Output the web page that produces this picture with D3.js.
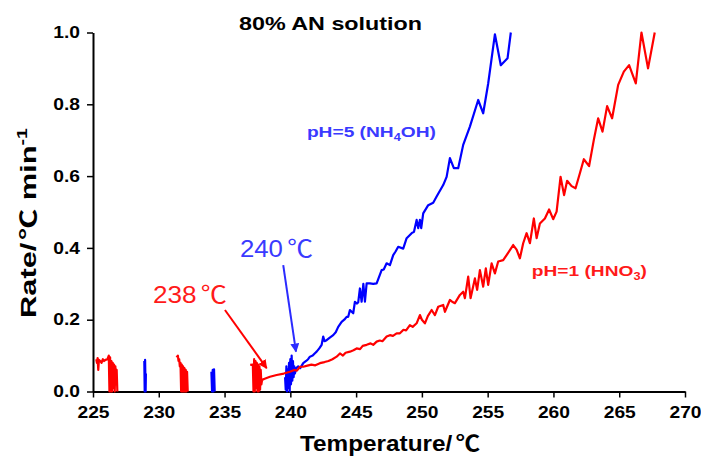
<!DOCTYPE html>
<html>
<head>
<meta charset="utf-8">
<script src="https://cdn.jsdelivr.net/npm/d3@7"></script>
<style>
  body { margin: 0; background: #fff; }
  svg text { font-family: "Liberation Sans", Arial, sans-serif; }
  .cjk { font-family: "Noto Sans CJK JP", "Noto Sans CJK SC", sans-serif; }
</style>
</head>
<body>
<svg id="chart" width="701" height="458"></svg>
<script>
// tick values
const xTicks = [225, 230, 235, 240, 245, 250, 255, 260, 265, 270];
const yTicks = [0, 0.2, 0.4, 0.6, 0.8, 1.0];

// pH=5 (NH4OH) series, [temperature, rate]
const blueSpike1 = [[228.9,0.085],[228.93,0.0],[228.96,0.088],[229.0,0.0],[229.02,0.05]];
const blueSpike2 = [[234.0,0.055],[234.05,0.0],[234.1,0.06],[234.15,0.0],[234.2,0.062],[234.25,0.0]];
const blueMain = [[239.6,0.04],[239.65,0.005],[239.7,0.07],[239.75,0.0],[239.8,0.06],[239.85,0.01],
  [239.9,0.08],[239.95,0.0],[240.0,0.09],[240.05,0.02],[240.1,0.1],[240.15,0.03],[240.2,0.085],
  [240.25,0.04],[240.3,0.07],[240.35,0.05],[240.45,0.065],[240.6,0.07],[240.75,0.065],[240.98,0.079],
  [241.2,0.085],[241.35,0.09],[241.49,0.097],[241.7,0.1],[241.85,0.106],[242.0,0.111],[242.2,0.12],
  [242.38,0.13],[242.5,0.153],[242.6,0.14],[242.76,0.143],[243.0,0.15],[243.26,0.157],[243.45,0.165],
  [243.64,0.18],[243.9,0.194],[244.1,0.2],[244.28,0.208],[244.4,0.208],[244.53,0.227],[244.78,0.218],
  [244.91,0.25],[245.05,0.245],[245.16,0.248],[245.29,0.287],[245.42,0.25],[245.55,0.3],[245.67,0.25],
  [245.8,0.301],[246.05,0.301],[246.3,0.3],[246.56,0.301],[246.94,0.338],[247.1,0.34],[247.32,0.357],
  [247.57,0.352],[247.82,0.38],[248.0,0.39],[248.2,0.403],[248.58,0.398],[248.84,0.427],[249.22,0.441],
  [249.4,0.445],[249.6,0.478],[249.72,0.455],[249.85,0.478],[249.95,0.455],[250.1,0.496],[250.48,0.519],
  [250.86,0.526],[251.12,0.543],[251.62,0.575],[251.88,0.598],[252.13,0.65],[252.43,0.622],[252.76,0.622],
  [253.14,0.687],[253.65,0.738],[254.28,0.812],[254.66,0.775],[255.04,0.858],[255.55,0.995],[256.0,0.909],
  [256.51,0.928],[256.76,1.0]];

// pH=1 (HNO3) series, [temperature, rate]
const redNoise1 = [[225.25,0.09],[225.3,0.08],[225.35,0.093],[225.4,0.06],[225.45,0.088],[225.55,0.085],
  [225.65,0.08],[225.75,0.09],[225.85,0.085],[225.95,0.088],[226.1,0.09],[226.2,0.1],[226.25,0.0],
  [226.3,0.095],[226.35,0.0],[226.4,0.085],[226.45,0.0],[226.5,0.08],[226.55,0.01],[226.6,0.075],
  [226.65,0.0],[226.7,0.07],[226.75,0.02],[226.8,0.06],[226.85,0.0]];
const redNoise2 = [[231.35,0.095],[231.45,0.1],[231.5,0.085],[231.55,0.09],[231.6,0.07],[231.65,0.08],
  [231.7,0.0],[231.75,0.075],[231.8,0.0],[231.85,0.07],[231.9,0.0],[231.95,0.065],[232.0,0.0],
  [232.05,0.06],[232.1,0.0],[232.15,0.055],[232.2,0.0]];
const redMain = [[236.95,0.074],[237.15,0.075],[237.2,0.0],[237.25,0.09],[237.3,0.0],[237.35,0.085],
  [237.4,0.01],[237.45,0.08],[237.5,0.0],[237.55,0.075],[237.6,0.0],[237.65,0.07],[237.7,0.005],
  [237.75,0.06],[237.8,0.02],[237.85,0.032],[238.0,0.035],[238.45,0.041],[238.96,0.046],[239.5,0.05],
  [239.97,0.055],[240.3,0.06],[240.5,0.058],[240.73,0.069],[240.98,0.069],[241.3,0.072],[241.6,0.075],
  [241.9,0.073],[242.25,0.079],[242.6,0.082],[242.9,0.085],[243.2,0.09],[243.52,0.097],[243.77,0.106],
  [244.0,0.1],[244.2,0.108],[244.53,0.111],[244.8,0.115],[245.04,0.12],[245.3,0.118],[245.5,0.127],
  [245.8,0.13],[246.1,0.134],[246.3,0.13],[246.56,0.139],[246.8,0.142],[247.0,0.14],[247.32,0.153],
  [247.57,0.157],[247.8,0.155],[248.08,0.162],[248.33,0.162],[248.6,0.172],[248.8,0.17],[249.09,0.185],
  [249.3,0.18],[249.6,0.19],[249.85,0.213],[250.0,0.2],[250.23,0.19],[250.45,0.21],[250.74,0.227],
  [250.99,0.213],[251.24,0.236],[251.62,0.241],[251.75,0.222],[252.13,0.255],[252.3,0.25],[252.51,0.246],
  [252.89,0.269],[253.14,0.278],[253.27,0.26],[253.52,0.32],[253.7,0.26],[254.03,0.315],[254.2,0.283],
  [254.41,0.338],[254.66,0.292],[254.86,0.343],[255.04,0.297],[255.3,0.357],[255.55,0.329],[255.8,0.362],
  [256.18,0.366],[256.44,0.38],[256.94,0.408],[257.2,0.395],[257.45,0.371],[257.7,0.413],[257.96,0.441],
  [258.21,0.413],[258.51,0.482],[258.72,0.427],[258.97,0.468],[259.35,0.482],[259.67,0.507],[259.98,0.48],
  [260.24,0.501],[260.54,0.598],[260.81,0.547],[261.04,0.587],[261.38,0.572],[261.68,0.566],[262.01,0.608],
  [262.31,0.647],[262.71,0.628],[263.07,0.701],[263.4,0.761],[263.73,0.724],[264.08,0.795],[264.46,0.761],
  [264.92,0.854],[265.35,0.891],[265.75,0.909],[266.26,0.858],[266.69,1.0],[267.19,0.9],[267.7,1.0]];

// annotation anchors in data units
const redArrow = [[235.03,0.227],[238.2,0.065]];
const blueArrow = [[239.46,0.352],[240.43,0.111]];

let svg = d3.select("#chart");
let margin = {left: 93, right: 16, top: 32.5, bottom: 66.5};
let w = 701 - margin.left - margin.right;
let h = 458 - margin.top - margin.bottom;

let x = d3.scaleLinear().domain([225, 270]).range([margin.left, margin.left + w]);
let y = d3.scaleLinear().domain([0, 1]).range([margin.top + h, margin.top]);

// the source font is wider than Liberation, stretch texts to the measured widths
function stretch(sel, len){
  sel.attr("textLength", len).attr("lengthAdjust", "spacingAndGlyphs");
}

svg.append("defs").selectAll("marker")
  .data([["arrRed","#ff0000"],["arrBlue","#2b2bff"]])
  .enter().append("marker")
  .attr("id", d => d[0])
  .attr("viewBox", "0 0 10 10")
  .attr("refX", 9).attr("refY", 5)
  .attr("markerWidth", 4.5).attr("markerHeight", 4.5)
  .attr("orient", "auto")
  .append("path").attr("d", "M0,0L10,5L0,10z").attr("fill", d => d[1]);

// axes
let xAxis = svg.append("g")
  .attr("transform", "translate(0," + (margin.top + h) + ")")
  .call(d3.axisBottom(x).tickValues(xTicks).tickSize(6).tickSizeOuter(0).tickPadding(9));
let yAxis = svg.append("g")
  .attr("transform", "translate(" + margin.left + ",0)")
  .call(d3.axisLeft(y).tickValues(yTicks).tickSize(6).tickSizeOuter(0).tickPadding(7)
    .tickFormat(d3.format(".1f")));

[xAxis, yAxis].forEach(a => {
  a.select(".domain").attr("stroke", "#000").attr("stroke-width", 2);
  a.selectAll(".tick line").attr("stroke", "#000").attr("stroke-width", 1.5);
  a.selectAll(".tick text")
    .attr("fill", "#000")
    .style("font-family", "'Liberation Sans', Arial, sans-serif")
    .style("font-size", "16px")
    .style("font-weight", "bold")
    .each(function(){
      d3.select(this).call(stretch, this.getComputedTextLength() * 1.2);
    });
});

let line = d3.line().x(d => x(d[0])).y(d => y(d[1]));

let plot = svg.append("g");
[blueSpike1, blueSpike2, blueMain].forEach(s => {
  plot.append("path").attr("d", line(s))
    .attr("fill", "none").attr("stroke", "#0000ff")
    .attr("stroke-width", 2.2).attr("stroke-linejoin", "round");
});
[redNoise1, redNoise2, redMain].forEach(s => {
  plot.append("path").attr("d", line(s))
    .attr("fill", "none").attr("stroke", "#ff0000")
    .attr("stroke-width", 2.2).attr("stroke-linejoin", "round");
});

// arrows
svg.append("path").attr("d", line(redArrow))
  .attr("stroke", "#ff0000").attr("stroke-width", 2).attr("marker-end", "url(#arrRed)");
svg.append("path").attr("d", line(blueArrow))
  .attr("stroke", "#2b2bff").attr("stroke-width", 2).attr("marker-end", "url(#arrBlue)");

// labels
svg.append("text")
  .attr("x", 239).attr("y", 30)
  .style("font-size", "18px").style("font-weight", "bold")
  .text("80% AN solution")
  .call(stretch, 183);

let l5 = svg.append("text")
  .attr("x", x(241.26)).attr("y", y(0.709))
  .attr("fill", "#3a3aff")
  .style("font-size", "15px").style("font-weight", "bold");
l5.append("tspan").text("pH=5 (NH");
l5.append("tspan").attr("dy", 4).style("font-size", "10px").text("4");
l5.append("tspan").attr("dy", -4).text("OH)");
l5.call(stretch, 129);

let l1 = svg.append("text")
  .attr("x", x(258.36)).attr("y", y(0.322))
  .attr("fill", "#ff1a1a")
  .style("font-size", "15px").style("font-weight", "bold");
l1.append("tspan").text("pH=1 (HNO");
l1.append("tspan").attr("dy", 4).style("font-size", "10px").text("3");
l1.append("tspan").attr("dy", -4).text(")");
l1.call(stretch, 115);

let t240 = svg.append("text")
  .attr("x", x(236.17)).attr("y", y(0.375))
  .attr("fill", "#3a3aff")
  .style("font-size", "24px");
t240.append("tspan").text("240");
t240.append("tspan").attr("class", "cjk").attr("dx", 4).text("℃");
t240.call(stretch, 73);

let t238 = svg.append("text")
  .attr("x", x(229.56)).attr("y", y(0.247))
  .attr("fill", "#ff1a1a")
  .style("font-size", "24px");
t238.append("tspan").text("238");
t238.append("tspan").attr("class", "cjk").attr("dx", 4).text("℃");
t238.call(stretch, 74);

// axis titles
let xt = svg.append("text")
  .attr("x", 300).attr("y", 451)
  .style("font-size", "22px").style("font-weight", "bold");
xt.append("tspan").text("Temperature/");
xt.append("tspan").attr("class", "cjk").attr("dx", 3).text("℃");
xt.call(stretch, 180);

let yt = svg.append("text")
  .attr("transform", "translate(36,318) rotate(-90)")
  .style("font-size", "22px").style("font-weight", "bold");
yt.append("tspan").text("Rate/");
yt.append("tspan").attr("class", "cjk").attr("dx", 2).text("℃");
yt.append("tspan").text(" min");
yt.append("tspan").attr("dy", -9).style("font-size", "14px").text("-1");
yt.call(stretch, 190);
</script>
</body>
</html>
